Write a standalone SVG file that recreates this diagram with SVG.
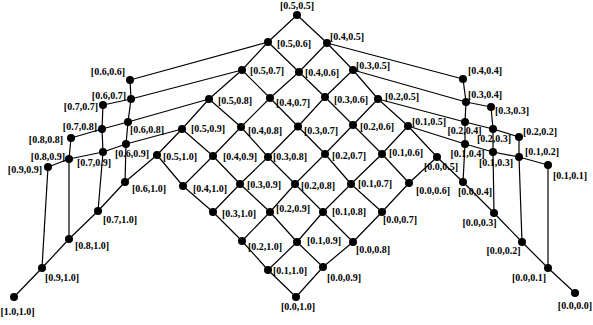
<svg xmlns="http://www.w3.org/2000/svg" width="593" height="325" viewBox="0 0 593 325">
<style>
.e{fill:none;stroke:#000;stroke-width:1.2;stroke-linejoin:round}
circle{fill:#000}
text{font-family:"Liberation Serif","Times New Roman",serif;font-weight:bold;font-size:10px;fill:#000}
.m{text-anchor:middle}
.r{text-anchor:end}
</style>
<rect width="593" height="325" fill="#fff"/>
<g id="connectors">
<polyline class="e" points="575,293 548,268 522,242 494,213 463,182 437,157 409,183 382,212 353,242 323,267 296,297"/>
<polyline class="e" points="548,165 519,157 493,152 465,144 408,126 382,154 351,184 323,212 297,242 268,270"/>
<polyline class="e" points="519,137 493,129 465,122 378,99 353,125 325,154 295,184 270,212 242,241"/>
<polyline class="e" points="491,107 466,102 353,70 325,97 298,126.5 268,157 240,184 213,212"/>
<polyline class="e" points="463,79 327,43 299,72 270,98 241,127 213,156 183,186"/>
<polyline class="e" points="297,15 268,42 242,70 209,99 182,129 157,155"/>
<polyline class="e" points="130,80 131,99 128,122 126,144 125,182"/>
<polyline class="e" points="103,105 102,129 103,152 98,211"/>
<polyline class="e" points="71,138 69,159 69,239"/>
<polyline class="e" points="48,167 42,268"/>
<polyline class="e" points="548,268 548,165"/>
<polyline class="e" points="522,242 519,157 519,137"/>
<polyline class="e" points="494,213 493,152 493,129 491,107"/>
<polyline class="e" points="463,182 465,144 465,122 466,102 463,79"/>
<polyline class="e" points="437,157 408,126 378,99 353,70 327,43 297,15"/>
<polyline class="e" points="409,183 382,154 353,125 325,97 299,72 268,42 130,80"/>
<polyline class="e" points="382,212 351,184 325,154 298,126.5 270,98 242,70 131,99 103,105"/>
<polyline class="e" points="353,242 323,212 295,184 268,157 241,127 209,99 128,122 102,129 71,138"/>
<polyline class="e" points="323,267 297,242 270,212 240,184 213,156 182,129 126,144 103,152 69,159 48,167"/>
<polyline class="e" points="296,297 268,270 242,241 213,212 183,186 157,155 125,182 98,211 69,239 42,268 14,297"/>
</g>
<g id="n_05_05"><circle cx="297" cy="15" r="4"/><text class="m" x="297" y="8.5">[0.5,0.5]</text></g>
<g id="n_05_06"><circle cx="268" cy="42" r="4"/><text x="277" y="47">[0.5,0.6]</text></g>
<g id="n_04_05"><circle cx="327" cy="43" r="4"/><text x="330" y="40">[0.4,0.5]</text></g>
<g id="n_05_07"><circle cx="242" cy="70" r="4"/><text x="250" y="74">[0.5,0.7]</text></g>
<g id="n_04_06"><circle cx="299" cy="72" r="4"/><text x="305" y="76">[0.4,0.6]</text></g>
<g id="n_03_05"><circle cx="353" cy="70" r="4"/><text x="356" y="68.5">[0.3,0.5]</text></g>
<g id="n_05_08"><circle cx="209" cy="99" r="4"/><text x="218" y="103.5">[0.5,0.8]</text></g>
<g id="n_04_07"><circle cx="270" cy="98" r="4"/><text x="276" y="106">[0.4,0.7]</text></g>
<g id="n_03_06"><circle cx="325" cy="97" r="4"/><text x="334" y="102.5">[0.3,0.6]</text></g>
<g id="n_02_05"><circle cx="378" cy="99" r="4"/><text x="385" y="100">[0.2,0.5]</text></g>
<g id="n_05_09"><circle cx="182" cy="129" r="4"/><text x="191" y="132">[0.5,0.9]</text></g>
<g id="n_04_08"><circle cx="241" cy="127" r="4"/><text x="248" y="134">[0.4,0.8]</text></g>
<g id="n_03_07"><circle cx="298" cy="126.5" r="4"/><text x="304" y="134">[0.3,0.7]</text></g>
<g id="n_02_06"><circle cx="353" cy="125" r="4"/><text x="360" y="130">[0.2,0.6]</text></g>
<g id="n_01_05"><circle cx="408" cy="126" r="4"/><text x="412" y="125">[0.1,0.5]</text></g>
<g id="n_05_10"><circle cx="157" cy="155" r="4"/><text x="163" y="159.5">[0.5,1.0]</text></g>
<g id="n_04_09"><circle cx="213" cy="156" r="4"/><text x="223" y="159.5">[0.4,0.9]</text></g>
<g id="n_03_08"><circle cx="268" cy="157" r="4"/><text x="273" y="159.5">[0.3,0.8]</text></g>
<g id="n_02_07"><circle cx="325" cy="154" r="4"/><text x="332" y="158.5">[0.2,0.7]</text></g>
<g id="n_01_06"><circle cx="382" cy="154" r="4"/><text x="389" y="156">[0.1,0.6]</text></g>
<g id="n_00_05"><circle cx="437" cy="157" r="4"/><text class="m" x="441" y="169.5">[0.0,0.5]</text></g>
<g id="n_04_10"><circle cx="183" cy="186" r="4"/><text x="193" y="192">[0.4,1.0]</text></g>
<g id="n_03_09"><circle cx="240" cy="184" r="4"/><text x="247" y="187.5">[0.3,0.9]</text></g>
<g id="n_02_08"><circle cx="295" cy="184" r="4"/><text x="301" y="188.5">[0.2,0.8]</text></g>
<g id="n_01_07"><circle cx="351" cy="184" r="4"/><text x="358" y="187">[0.1,0.7]</text></g>
<g id="n_00_06"><circle cx="409" cy="183" r="4"/><text x="416" y="194">[0.0,0.6]</text></g>
<g id="n_03_10"><circle cx="213" cy="212" r="4"/><text x="222" y="217">[0.3,1.0]</text></g>
<g id="n_02_09"><circle cx="270" cy="212" r="4"/><text x="276" y="212">[0.2,0.9]</text></g>
<g id="n_01_08"><circle cx="323" cy="212" r="4"/><text x="332" y="215">[0.1,0.8]</text></g>
<g id="n_00_07"><circle cx="382" cy="212" r="4"/><text x="383" y="222.5">[0.0,0.7]</text></g>
<g id="n_02_10"><circle cx="242" cy="241" r="4"/><text x="248" y="249.5">[0.2,1.0]</text></g>
<g id="n_01_09"><circle cx="297" cy="242" r="4"/><text x="307" y="244">[0.1,0.9]</text></g>
<g id="n_00_08"><circle cx="353" cy="242" r="4"/><text x="356" y="253">[0.0,0.8]</text></g>
<g id="n_01_10"><circle cx="268" cy="270" r="4"/><text x="273" y="273.5">[0.1,1.0]</text></g>
<g id="n_00_09"><circle cx="323" cy="267" r="4"/><text x="327" y="281">[0.0,0.9]</text></g>
<g id="n_00_10"><circle cx="296" cy="297" r="4"/><text class="m" x="298" y="310">[0.0,1.0]</text></g>
<g id="n_06_06"><circle cx="130" cy="80" r="4"/><text class="r" x="125" y="74.5">[0.6,0.6]</text></g>
<g id="n_06_07"><circle cx="131" cy="99" r="4"/><text class="r" x="126" y="98.5">[0.6,0.7]</text></g>
<g id="n_07_07"><circle cx="103" cy="105" r="4"/><text class="r" x="98" y="109.5">[0.7,0.7]</text></g>
<g id="n_06_08"><circle cx="128" cy="122" r="4"/><text x="130" y="132.5">[0.6,0.8]</text></g>
<g id="n_07_08"><circle cx="102" cy="129" r="4"/><text class="r" x="97" y="129.5">[0.7,0.8]</text></g>
<g id="n_08_08"><circle cx="71" cy="138" r="4"/><text class="r" x="63" y="143">[0.8,0.8]</text></g>
<g id="n_06_09"><circle cx="126" cy="144" r="4"/><text class="m" x="132" y="157">[0.6,0.9]</text></g>
<g id="n_07_09"><circle cx="103" cy="152" r="4"/><text class="m" x="94" y="166">[0.7,0.9]</text></g>
<g id="n_08_09"><circle cx="69" cy="159" r="4"/><text class="r" x="65" y="160">[0.8,0.9]</text></g>
<g id="n_09_09"><circle cx="48" cy="167" r="4"/><text class="r" x="42" y="173">[0.9,0.9]</text></g>
<g id="n_06_10"><circle cx="125" cy="182" r="4"/><text x="132" y="192">[0.6,1.0]</text></g>
<g id="n_07_10"><circle cx="98" cy="211" r="4"/><text x="103" y="223">[0.7,1.0]</text></g>
<g id="n_08_10"><circle cx="69" cy="239" r="4"/><text x="75" y="248.5">[0.8,1.0]</text></g>
<g id="n_09_10"><circle cx="42" cy="268" r="4"/><text x="45" y="281">[0.9,1.0]</text></g>
<g id="n_10_10"><circle cx="14" cy="297" r="4"/><text class="m" x="17.5" y="315">[1.0,1.0]</text></g>
<g id="n_04_04"><circle cx="463" cy="79" r="4"/><text x="468" y="74">[0.4,0.4]</text></g>
<g id="n_03_04"><circle cx="466" cy="102" r="4"/><text x="468" y="98">[0.3,0.4]</text></g>
<g id="n_03_03"><circle cx="491" cy="107" r="4"/><text x="495" y="113.5">[0.3,0.3]</text></g>
<g id="n_02_04"><circle cx="465" cy="122" r="4"/><text class="m" x="464.5" y="133.5">[0.2,0.4]</text></g>
<g id="n_02_03"><circle cx="493" cy="129" r="4"/><text class="m" x="494" y="142">[0.2,0.3]</text></g>
<g id="n_02_02"><circle cx="519" cy="137" r="4"/><text x="523" y="135">[0.2,0.2]</text></g>
<g id="n_01_04"><circle cx="465" cy="144" r="4"/><text class="m" x="467.5" y="157">[0.1,0.4]</text></g>
<g id="n_01_03"><circle cx="493" cy="152" r="4"/><text class="m" x="496" y="166">[0.1,0.3]</text></g>
<g id="n_01_02"><circle cx="519" cy="157" r="4"/><text x="525" y="154.5">[0.1,0.2]</text></g>
<g id="n_01_01"><circle cx="548" cy="165" r="4"/><text x="553" y="178.5">[0.1,0.1]</text></g>
<g id="n_00_04"><circle cx="463" cy="182" r="4"/><text class="m" x="475" y="195">[0.0,0.4]</text></g>
<g id="n_00_03"><circle cx="494" cy="213" r="4"/><text class="m" x="479.5" y="226">[0.0,0.3]</text></g>
<g id="n_00_02"><circle cx="522" cy="242" r="4"/><text class="m" x="503.5" y="253.5">[0.0,0.2]</text></g>
<g id="n_00_01"><circle cx="548" cy="268" r="4"/><text class="m" x="529" y="281">[0.0,0.1]</text></g>
<g id="n_00_00"><circle cx="575" cy="293" r="4"/><text class="r" x="592" y="309">[0.0,0.0]</text></g>
</svg>
